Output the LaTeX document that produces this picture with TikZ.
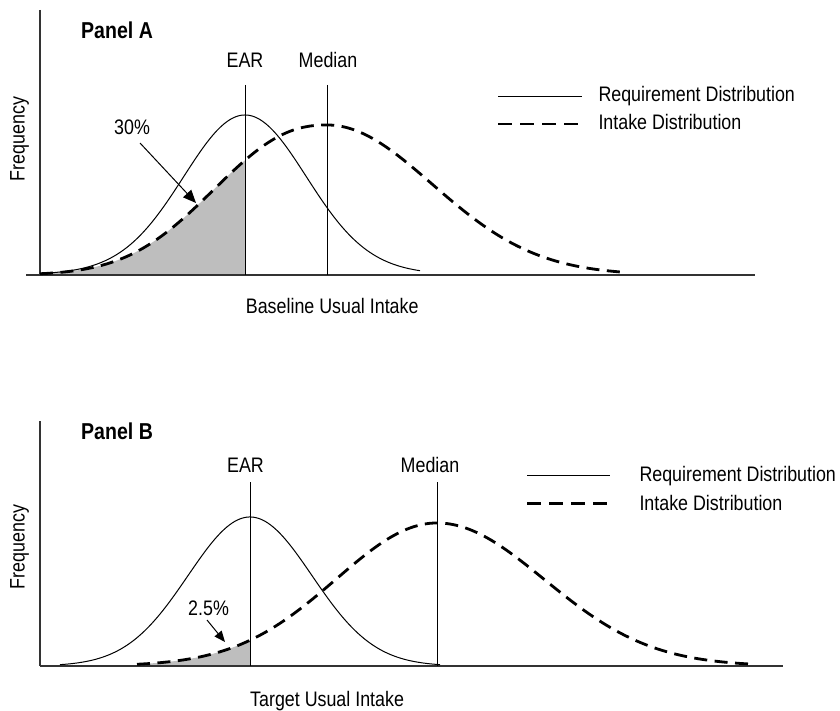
\documentclass[tikz,border=0pt]{standalone}
\usepackage{fontspec}
\setmainfont{Liberation Sans}[FakeStretch=0.85]
\usetikzlibrary{arrows.meta}
\definecolor{axisgray}{HTML}{333333}
\definecolor{areagray}{HTML}{BEBEBE}
\tikzset{
  lbl/.style={inner sep=0pt, font=\fontsize{21}{24}\selectfont},
  paneltitle/.style={inner sep=0pt, anchor=base west, font=\fontsize{23}{26}\selectfont\bfseries},
  axisline/.style={draw=axisgray, line width=1.3pt},
  marker/.style={draw=black, line width=1pt},
  reqcurve/.style={draw=black, line width=1pt},
  intcurve/.style={draw=black, line width=2.8pt, dash pattern=on 13pt off 7.5pt},
  callout/.style={draw=black, line width=1pt, -{Triangle[length=13pt,width=11pt]}},
}
\begin{document}
\begin{tikzpicture}[x=1pt,y=-1pt]
\useasboundingbox (0,0) rectangle (840,711);
% ================= Panel A =================
\fill[areagray] (40,275) -- plot[domain=40:245,samples=80] (\x,{275-150*exp(-((abs(\x-327)+0.01)/145.3)^2.3)}) -- (245,275) -- cycle;
\coordinate (aYtop) at (40,10);
\coordinate (aO) at (40,275);
\coordinate (aXl) at (26,275);
\coordinate (aXr) at (755,275);
\draw[axisline] (aYtop) -- (aO);
\draw[axisline] (aXl) -- (aXr);
\coordinate (aEARt) at (245,85);
\coordinate (aEARb) at (245,275);
\coordinate (aMedt) at (327,85);
\coordinate (aMedb) at (327,275);
\draw[marker] (aEARt) -- (aEARb);
\draw[marker] (aMedt) -- (aMedb);
\draw[reqcurve] plot[domain=40:420,samples=160]
  (\x,{275-160*(0.88*exp(-0.5*((\x-245)/60)^2)+0.12*exp(-0.5*((\x-245)/85)^2))});
\draw[intcurve] plot[domain=40:327,samples=120] (\x,{275-150*exp(-((abs(\x-327)+0.01)/145.3)^2.3)})
  -- plot[domain=327:627,samples=120] (\x,{275-150*exp(-0.5*((\x-327)/105)^2)});
\node[paneltitle] (panelA) at (81,38.3) {Panel A};
\node[lbl, anchor=base] (aEAR) at (245,67.7) {EAR};
\node[lbl, anchor=base] (aMed) at (328,67.7) {Median};
\node[lbl, anchor=base, rotate=90] (aFreq) at (24.5,139) {Frequency};
\node[lbl, anchor=base west] (aXlab) at (245.7,313) {Baseline Usual Intake};
\node[lbl, anchor=base west] (a30) at (114,135) {30\%};
\coordinate (a30tip) at (196,203);
\draw[callout] (140,143) -- (a30tip);
% legend A
\coordinate (aL1a) at (498,97);
\coordinate (aL1b) at (582,97);
\coordinate (aL2a) at (498,124);
\coordinate (aL2b) at (582,124);
\draw[reqcurve] (aL1a) -- (aL1b);
\draw[intcurve, dash pattern=on 14pt off 8pt] (aL2a) -- (aL2b);
\node[lbl, anchor=base west] (aLeg1) at (598.3,101.7) {Requirement Distribution};
\node[lbl, anchor=base west] (aLeg2) at (598.3,129.5) {Intake Distribution};
% ================= Panel B =================
\fill[areagray] (137,666) -- plot[domain=137:250,samples=60] (\x,{666-143*exp(-0.5*((\x-437)/101)^2)}) -- (250,666) -- cycle;
\coordinate (bYtop) at (40,421);
\coordinate (bO) at (40,666);
\coordinate (bXr) at (783,666);
\draw[axisline] (bYtop) -- (bO);
\draw[axisline] (bO) -- (bXr);
\coordinate (bEARt) at (250,482);
\coordinate (bEARb) at (250,666);
\coordinate (bMedt) at (437,482);
\coordinate (bMedb) at (437,666);
\draw[marker] (bEARt) -- (bEARb);
\draw[marker] (bMedt) -- (bMedb);
\draw[reqcurve] plot[domain=60:440,samples=160] (\x,{666-149*exp(-0.5*((\x-250)/62)^2)});
\draw[intcurve] plot[domain=137:437,samples=120] (\x,{666-143*exp(-0.5*((\x-437)/101)^2)})
  -- plot[domain=437:753,samples=120] (\x,{666-143*exp(-0.5*((\x-437)/107)^2)});
\node[paneltitle] (panelB) at (81,439.3) {Panel B};
\node[lbl, anchor=base] (bEAR) at (245.5,472.3) {EAR};
\node[lbl, anchor=base] (bMed) at (430,472) {Median};
\node[lbl, anchor=base, rotate=90] (bFreq) at (24.5,547) {Frequency};
\node[lbl, anchor=base west] (bXlab) at (250,706.5) {Target Usual Intake};
\node[lbl, anchor=base west] (b25) at (188,615) {2.5\%};
\coordinate (b25tip) at (225,642);
\draw[callout, -{Triangle[length=11pt,width=9pt]}] (207,620) -- (b25tip);
% legend B
\coordinate (bL1a) at (527,475);
\coordinate (bL1b) at (610,475);
\coordinate (bL2a) at (527,503.5);
\coordinate (bL2b) at (610,503.5);
\draw[reqcurve] (bL1a) -- (bL1b);
\draw[intcurve, dash pattern=on 14pt off 8pt] (bL2a) -- (bL2b);
\node[lbl, anchor=base west] (bLeg1) at (639.3,481.7) {Requirement Distribution};
\node[lbl, anchor=base west] (bLeg2) at (639.3,510) {Intake Distribution};
\end{tikzpicture}
\end{document}
